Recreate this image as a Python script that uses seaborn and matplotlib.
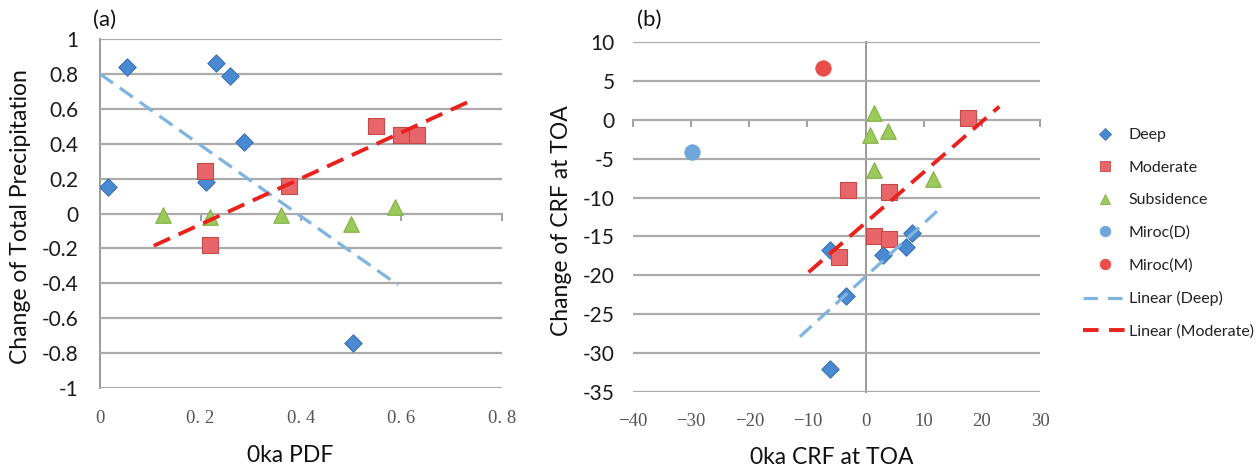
import matplotlib
matplotlib.use("Agg")
import matplotlib.pyplot as plt
import seaborn as sns
import pandas as pd
from matplotlib.lines import Line2D

# ---------------- Panel (a) data ----------------
a_deep_x = [0.015, 0.053, 0.230, 0.259, 0.287, 0.210, 0.503]
a_deep_y = [0.15, 0.84, 0.86, 0.79, 0.41, 0.18, -0.74]
a_mod_x = [0.209, 0.219, 0.377, 0.549, 0.599, 0.631]
a_mod_y = [0.244, -0.18, 0.16, 0.50, 0.45, 0.45]
a_sub_x = [0.125, 0.219, 0.360, 0.499, 0.587]
a_sub_y = [-0.01, -0.02, -0.01, -0.06, 0.04]
a_trend_deep_x = [0.0, 0.593]
a_trend_deep_y = [0.80, -0.41]
a_trend_mod_x = [0.107, 0.737]
a_trend_mod_y = [-0.185, 0.645]
a_xticks = [0, 0.2, 0.4, 0.6, 0.8]
a_xticklabels = ["0", "0. 2", "0. 4", "0. 6", "0. 8"]
a_yticks = [-1, -0.8, -0.6, -0.4, -0.2, 0, 0.2, 0.4, 0.6, 0.8, 1]
a_yticklabels = ["-1", "-0.8", "-0.6", "-0.4", "-0.2", "0", "0.2", "0.4", "0.6", "0.8", "1"]

# ---------------- Panel (b) data ----------------
b_deep_x = [-6.1, -3.3, 3.0, 6.9, 8.0, -6.1]
b_deep_y = [-16.7, -22.6, -17.4, -16.4, -14.6, -32.0]
b_mod_x = [-3.0, 4.0, 1.4, 4.0, -4.6, 17.7]
b_mod_y = [-9.0, -9.3, -15.0, -15.3, -17.6, 0.2]
b_sub_x = [1.5, 0.7, 3.9, 1.5, 11.6]
b_sub_y = [0.9, -1.9, -1.5, -6.5, -7.6]
b_mirocD_x = [-29.8]
b_mirocD_y = [-4.1]
b_mirocM_x = [-7.4]
b_mirocM_y = [6.7]
b_trend_deep_x = [-11.3, 13.1]
b_trend_deep_y = [-27.9, -11.2]
b_trend_mod_x = [-9.8, 23.0]
b_trend_mod_y = [-19.6, 1.7]
b_xticks = [-40, -30, -20, -10, 0, 10, 20, 30]
b_xticklabels = ["\u221240", "\u221230", "\u221220", "\u221210", "0", "10", "20", "30"]
b_yticks = [-35, -30, -25, -20, -15, -10, -5, 0, 5, 10]
b_yticklabels = ["-35", "-30", "-25", "-20", "-15", "-10", "-5", "0", "5", "10"]

legend_labels = ["Deep", "Moderate", "Subsidence", "Miroc(D)", "Miroc(M)",
                 "Linear (Deep)", "Linear (Moderate)"]

# ---------------- styles ----------------
sns.set_theme(style="white")
SANS = ["Lato", "DejaVu Sans"]
SERIF = ["Liberation Serif", "DejaVu Serif"]
plt.rcParams["font.family"] = SANS

C_DEEP = "#4a8ad0"
C_DEEP_E = "#3a72b4"
C_MOD = "#e8666a"
C_MOD_E = "#c44a4a"
C_SUB = "#9bc95a"
C_SUB_E = "#84b046"
C_MD = "#6fa6dc"
C_MM = "#ea4e4a"
C_TD = "#7fb3e0"
C_TM = "#e8231e"
GRID = "#ababab"

styles = {
    "Deep": dict(marker="D", s=78, color=C_DEEP, edgecolor=C_DEEP_E, linewidth=0.8),
    "Moderate": dict(marker="s", s=130, color=C_MOD, edgecolor=C_MOD_E, linewidth=0.8),
    "Subsidence": dict(marker="^", s=125, color=C_SUB, edgecolor=C_SUB_E, linewidth=0.8),
    "Miroc(D)": dict(marker="o", s=125, color=C_MD, edgecolor=C_MD, linewidth=0.5),
    "Miroc(M)": dict(marker="o", s=125, color=C_MM, edgecolor=C_MM, linewidth=0.5),
}

fig = plt.figure(figsize=(12.6, 4.67), dpi=100)
W, H = 1260, 467
axA = fig.add_axes([100 / W, 1 - 388 / H, 402 / W, 349 / H])
axB = fig.add_axes([633 / W, 1 - 392 / H, 407 / W, 350 / H])


def scatter(ax, xs, ys, name):
    df = pd.DataFrame({"x": xs, "y": ys})
    sns.scatterplot(data=df, x="x", y="y", ax=ax, legend=False, zorder=4,
                    **styles[name])


def trend(ax, xs, ys, color, lw, dash):
    df = pd.DataFrame({"x": xs, "y": ys})
    sns.lineplot(data=df, x="x", y="y", ax=ax, color=color, linewidth=lw,
                 zorder=5, sort=False, estimator=None)
    ax.lines[-1].set_dashes(dash)
    ax.lines[-1].set_dash_capstyle("butt")


# ----- panel (a) -----
scatter(axA, a_deep_x, a_deep_y, "Deep")
scatter(axA, a_mod_x, a_mod_y, "Moderate")
scatter(axA, a_sub_x, a_sub_y, "Subsidence")
trend(axA, a_trend_deep_x, a_trend_deep_y, C_TD, 2.3, (5, 2.6))
trend(axA, a_trend_mod_x, a_trend_mod_y, C_TM, 2.8, (4.6, 2.4))

# ----- panel (b) -----
scatter(axB, b_deep_x, b_deep_y, "Deep")
scatter(axB, b_mod_x, b_mod_y, "Moderate")
scatter(axB, b_sub_x, b_sub_y, "Subsidence")
scatter(axB, b_mirocD_x, b_mirocD_y, "Miroc(D)")
scatter(axB, b_mirocM_x, b_mirocM_y, "Miroc(M)")
trend(axB, b_trend_deep_x, b_trend_deep_y, C_TD, 2.3, (5, 2.6))
trend(axB, b_trend_mod_x, b_trend_mod_y, C_TM, 2.8, (4.6, 2.4))


def style_axes(ax, xlim, ylim, xt, xtl, yt, ytl, left_tick_len, ylab_pad, xlab_pad):
    ax.set_xlim(*xlim)
    ax.set_ylim(*ylim)
    for s in ax.spines.values():
        s.set_visible(False)
    ax.set_yticks(yt)
    ax.set_yticklabels(ytl, fontsize=15, color="#1a1a1a")
    ax.set_xticks(xt)
    ax.set_xticklabels(xtl, fontsize=13.5, color="#555555", family=SERIF)
    ax.tick_params(axis="x", length=0, pad=xlab_pad)
    ax.tick_params(axis="y", length=left_tick_len, width=1.5, color=GRID,
                   direction="out", pad=ylab_pad)
    ax.yaxis.grid(True, color=GRID, linewidth=1.6)
    ax.xaxis.grid(False)
    ax.set_axisbelow(True)
    # x axis crossing at y = 0 with small ticks
    sx = ax.secondary_xaxis(0, transform=ax.transData)
    sx.spines["bottom"].set_color("#9a9a9a")
    sx.spines["bottom"].set_linewidth(1.4)
    sx.set_xticks(xt)
    sx.tick_params(axis="x", length=5, width=1.3, color="#9a9a9a",
                   direction="out", labelbottom=False)
    # y axis crossing at x = 0
    sy = ax.secondary_yaxis(0, transform=ax.transData)
    sy.spines["left"].set_color("#9a9a9a")
    sy.spines["left"].set_linewidth(1.4)
    sy.set_yticks(yt)
    sy.tick_params(axis="y", length=0, labelleft=False)


style_axes(axA, (0, 0.8), (-1, 1), a_xticks, a_xticklabels, a_yticks, a_yticklabels,
           5, 10.5, 16)
style_axes(axB, (-40, 30), (-35, 10), b_xticks, b_xticklabels, b_yticks, b_yticklabels,
           0, 13, 15)

axA.set_xlabel("0ka PDF", fontsize=16.5, color="#111111")
axA.set_ylabel("Change of Total Precipitation", fontsize=16.5, color="#111111")
axA.xaxis.set_label_coords(0.473, -0.163)
axA.yaxis.set_label_coords(-0.172, 0.49)
axB.set_xlabel("0ka CRF at TOA", fontsize=16.5, color="#111111")
axB.set_ylabel("Change of CRF at TOA", fontsize=16.5, color="#111111")
axB.xaxis.set_label_coords(0.489, -0.157)
axB.yaxis.set_label_coords(-0.150, 0.49)

axA.text(-0.017, 1.054, "(a)", transform=axA.transAxes, fontsize=16,
         va="center", ha="left", color="#111111")
axB.text(0.01, 1.063, "(b)", transform=axB.transAxes, fontsize=16,
         va="center", ha="left", color="#111111")

# ----- legend -----
handles = []
for name in legend_labels[:5]:
    st = styles[name]
    handles.append(Line2D([], [], linestyle="none", marker=st["marker"],
                          markersize=(st["s"] ** 0.5) * 0.68,
                          markerfacecolor=st["color"], markeredgecolor=st["edgecolor"],
                          markeredgewidth=0.6))
handles.append(Line2D([], [], color=C_TD, linewidth=2.3, dashes=(4.5, 3.2)))
handles.append(Line2D([], [], color=C_TM, linewidth=2.8, dashes=(4.0, 2.7)))
fig.legend(handles, legend_labels, loc="upper left",
           bbox_to_anchor=(1075 / W, 1 - 120 / H), frameon=False, fontsize=11.5,
           handlelength=2.7, handletextpad=0.15, labelspacing=1.15, borderpad=0,
           labelcolor="#222222")

fig.savefig("out.png", dpi=100)
